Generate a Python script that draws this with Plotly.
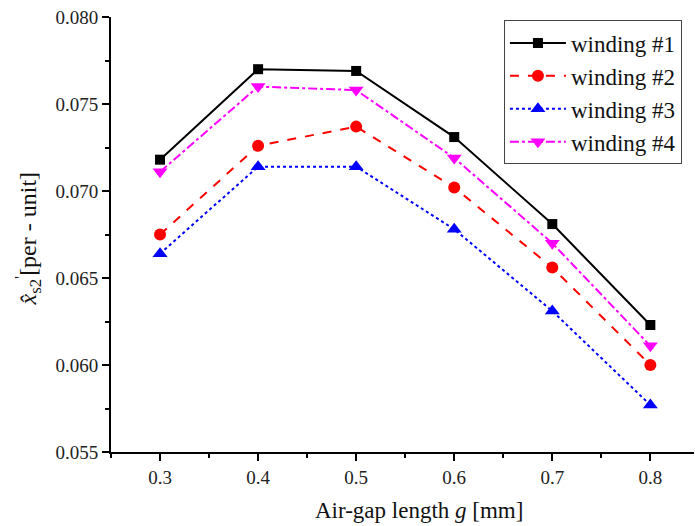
import plotly.graph_objects as go

gap = [0.3, 0.4, 0.5, 0.6, 0.7, 0.8]
winding1 = [0.0718, 0.0770, 0.0769, 0.0731, 0.0681, 0.0623]
winding2 = [0.0675, 0.0726, 0.0737, 0.0702, 0.0656, 0.0600]
winding3 = [0.0664, 0.0714, 0.0714, 0.0678, 0.0631, 0.0577]
winding4 = [0.0711, 0.0760, 0.0758, 0.0719, 0.0670, 0.0611]
names = ["winding #1", "winding #2", "winding #3", "winding #4"]
x_title = "Air-gap length <i>g</i> [mm]"
y_title = "<i>x̂</i><sub>s2</sub><sup>'</sup>[per - unit]"

FONT = "Liberation Serif, DejaVu Serif, serif"

fig = go.Figure()
styles = [
    (winding1, "black", "solid", "square", 10),
    (winding2, "red", "dash", "circle", 12),
    (winding3, "blue", "dot", "triangle-up", 13),
    (winding4, "magenta", "dashdot", "triangle-down", 13),
]
for name, (vals, col, dash, sym, sz) in zip(names, styles):
    fig.add_trace(go.Scatter(
        x=gap, y=vals, name=name, mode="lines+markers",
        line=dict(color=col, width=2, dash=dash),
        marker=dict(symbol=sym, size=sz, color=col),
    ))

fig.update_layout(
    width=695, height=526, autosize=False,
    margin=dict(l=111, r=1, t=17, b=74, autoexpand=False),
    paper_bgcolor="white", plot_bgcolor="white",
    font=dict(family=FONT, color="#222", size=16),
    showlegend=True,
    legend=dict(
        x=0.674, y=0.992, xanchor="left", yanchor="top",
        bordercolor="#444", borderwidth=1, bgcolor="white",
        font=dict(family=FONT, size=23, color="#111"),
        tracegroupgap=0, itemwidth=56,
    ),
    annotations=[
        dict(text=x_title, xref="paper", yref="paper", x=0.528, y=-0.1348,
             xanchor="center", yanchor="middle", showarrow=False,
             font=dict(family=FONT, size=23, color="#111")),
        dict(text=y_title, xref="paper", yref="paper", x=-0.143, y=0.49,
             xanchor="center", yanchor="middle", showarrow=False, textangle=-90,
             font=dict(family=FONT, size=24, color="#111")),
    ],
)
fig.update_xaxes(
    range=[0.25, 0.8445], tickvals=[0.3, 0.4, 0.5, 0.6, 0.7, 0.8],
    ticktext=["0.3", "0.4", "0.5", "0.6", "0.7", "0.8"], automargin=False,
    showgrid=False, zeroline=False, showline=True, linecolor="black", linewidth=2,
    ticks="outside", ticklen=7, tickwidth=2, tickcolor="black",
    minor=dict(ticks="outside", ticklen=4, tickwidth=2, tickcolor="black", dtick=0.05, tick0=0.25),
    tickfont=dict(family=FONT, size=19, color="#222"),
)
fig.update_yaxes(
    range=[0.055, 0.080], tickvals=[0.055, 0.060, 0.065, 0.070, 0.075, 0.080],
    ticktext=["0.055", "0.060", "0.065", "0.070", "0.075", "0.080"], automargin=False,
    showgrid=False, zeroline=False, showline=True, linecolor="black", linewidth=2,
    ticks="outside", ticklen=7, tickwidth=2, tickcolor="black",
    minor=dict(ticks="outside", ticklen=4, tickwidth=2, tickcolor="black", dtick=0.0025, tick0=0.055),
    tickfont=dict(family=FONT, size=19, color="#222"),
)

fig.write_html(
    "out.html",
    config={"displayModeBar": False},
    post_script="document.body.style.margin='0';document.body.style.overflow='hidden';",
)
